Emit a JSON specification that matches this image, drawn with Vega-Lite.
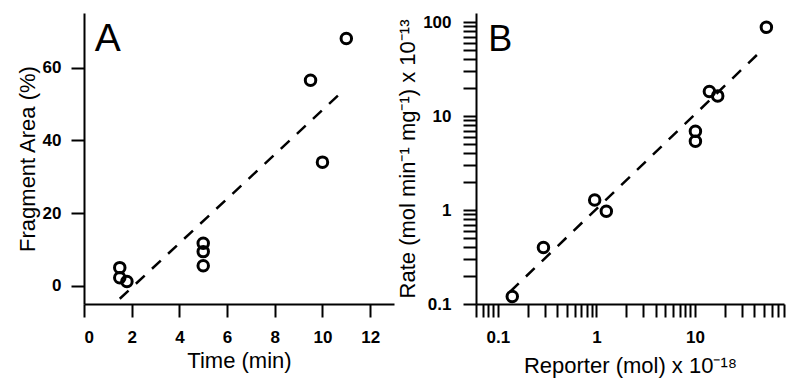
{
  "$schema": "https://vega.github.io/schema/vega-lite/v6.json",
  "padding": {"left": 16, "top": 13, "right": 5, "bottom": 5},
  "background": "white",
  "spacing": 2,
  "config": {
    "view": {"stroke": null},
    "axis": {
      "grid": false,
      "domainColor": "black", "domainWidth": 2,
      "tickColor": "black", "tickWidth": 2, "tickSize": 13,
      "labelFont": "Liberation Sans", "labelFontSize": 17, "labelFontWeight": "bold", "labelColor": "black",
      "titleFont": "Liberation Sans", "titleFontSize": 22, "titleFontWeight": "normal", "titleColor": "black"
    }
  },
  "datasets": {
    "ptsA": [
      {"x": 1.5, "y": 5}, {"x": 1.5, "y": 2.2}, {"x": 1.8, "y": 1.2},
      {"x": 5, "y": 11.7}, {"x": 5, "y": 9.4}, {"x": 5, "y": 5.5},
      {"x": 9.5, "y": 56.5}, {"x": 10, "y": 34}, {"x": 11, "y": 68}
    ],
    "fitA": [{"x": 1.5, "y": -3.55}, {"x": 10.7, "y": 52.6}],
    "labA": [{"x": 0.45, "y": 64.6, "label": "A"}],
    "ptsB": [
      {"x": 0.14, "y": 0.12}, {"x": 0.29, "y": 0.4}, {"x": 0.96, "y": 1.28},
      {"x": 1.26, "y": 0.97}, {"x": 10.1, "y": 6.9}, {"x": 10.1, "y": 5.4},
      {"x": 14, "y": 18.3}, {"x": 17, "y": 16.4}, {"x": 53, "y": 88}
    ],
    "fitB": [{"x": 0.133, "y": 0.135}, {"x": 47, "y": 49.5}],
    "labB": [{"x": 0.08, "y": 48.7, "label": "B"}]
  },
  "hconcat": [
    {
      "width": 310, "height": 291,
      "layer": [
        {
          "data": {"name": "ptsA"},
          "mark": {"type": "point", "shape": "circle", "filled": false, "stroke": "black", "strokeWidth": 3, "size": 110, "opacity": 1},
          "encoding": {
            "x": {"field": "x", "type": "quantitative", "scale": {"domain": [0, 13], "nice": false, "zero": false},
                  "axis": {"values": [0, 2, 4, 6, 8, 10, 12], "title": "Time (min)", "labelPadding": 12, "titlePadding": 5}},
            "y": {"field": "y", "type": "quantitative", "scale": {"domain": [-5, 75], "nice": false, "zero": false},
                  "axis": {"values": [0, 20, 40, 60], "title": "Fragment Area (%)", "labelPadding": 10, "titlePadding": 3}}
          }
        },
        {
          "data": {"name": "fitA"},
          "mark": {"type": "line", "color": "black", "strokeWidth": 2.5, "strokeDash": [12, 10]},
          "encoding": {
            "x": {"field": "x", "type": "quantitative"},
            "y": {"field": "y", "type": "quantitative"}
          }
        },
        {
          "data": {"name": "labA"},
          "mark": {"type": "text", "font": "Liberation Sans", "fontSize": 39, "align": "left", "baseline": "alphabetic", "color": "black"},
          "encoding": {
            "x": {"field": "x", "type": "quantitative"},
            "y": {"field": "y", "type": "quantitative"},
            "text": {"field": "label"}
          }
        }
      ]
    },
    {
      "width": 308, "height": 291,
      "layer": [
        {
          "data": {"name": "ptsB"},
          "mark": {"type": "point", "shape": "circle", "filled": false, "stroke": "black", "strokeWidth": 3, "size": 110, "opacity": 1},
          "encoding": {
            "x": {"field": "x", "type": "quantitative", "scale": {"type": "log", "domain": [0.06, 80], "nice": false},
                  "axis": {
                    "values": [0.06, 0.07, 0.08, 0.09, 0.1, 0.2, 0.3, 0.4, 0.5, 0.6, 0.7, 0.8, 0.9, 1, 2, 3, 4, 5, 6, 7, 8, 9, 10, 20, 30, 40, 50, 60, 70, 80],
                    "format": "~g",
                    "labelExpr": "abs(log(datum.value)/LN10 - round(log(datum.value)/LN10)) < 0.001 ? datum.label : ''",
                    "labelOverlap": false,
                    "encode": {"ticks": {"update": {"y2": {"signal": "abs(log(datum.value)/LN10 - round(log(datum.value)/LN10)) < 0.001 ? 13 : 7"}}}},
                    "title": "Reporter (mol) x 10⁻¹⁸", "labelPadding": 12, "titlePadding": 10}},
            "y": {"field": "y", "type": "quantitative", "scale": {"type": "log", "domain": [0.1, 125], "nice": false},
                  "axis": {
                    "values": [0.1, 0.2, 0.3, 0.4, 0.5, 0.6, 0.7, 0.8, 0.9, 1, 2, 3, 4, 5, 6, 7, 8, 9, 10, 20, 30, 40, 50, 60, 70, 80, 90, 100],
                    "format": "~g",
                    "labelExpr": "abs(log(datum.value)/LN10 - round(log(datum.value)/LN10)) < 0.001 ? datum.label : ''",
                    "labelOverlap": false,
                    "encode": {"ticks": {"update": {"x2": {"signal": "abs(log(datum.value)/LN10 - round(log(datum.value)/LN10)) < 0.001 ? -13 : -7"}}}},
                    "title": "Rate (mol min⁻¹ mg⁻¹) x 10⁻¹³", "labelPadding": 12, "titlePadding": 3}}
          }
        },
        {
          "data": {"name": "fitB"},
          "mark": {"type": "line", "color": "black", "strokeWidth": 2.5, "strokeDash": [12, 10]},
          "encoding": {
            "x": {"field": "x", "type": "quantitative"},
            "y": {"field": "y", "type": "quantitative"}
          }
        },
        {
          "data": {"name": "labB"},
          "mark": {"type": "text", "font": "Liberation Sans", "fontSize": 36, "align": "left", "baseline": "alphabetic", "color": "black"},
          "encoding": {
            "x": {"field": "x", "type": "quantitative"},
            "y": {"field": "y", "type": "quantitative"},
            "text": {"field": "label"}
          }
        }
      ]
    }
  ]
}
